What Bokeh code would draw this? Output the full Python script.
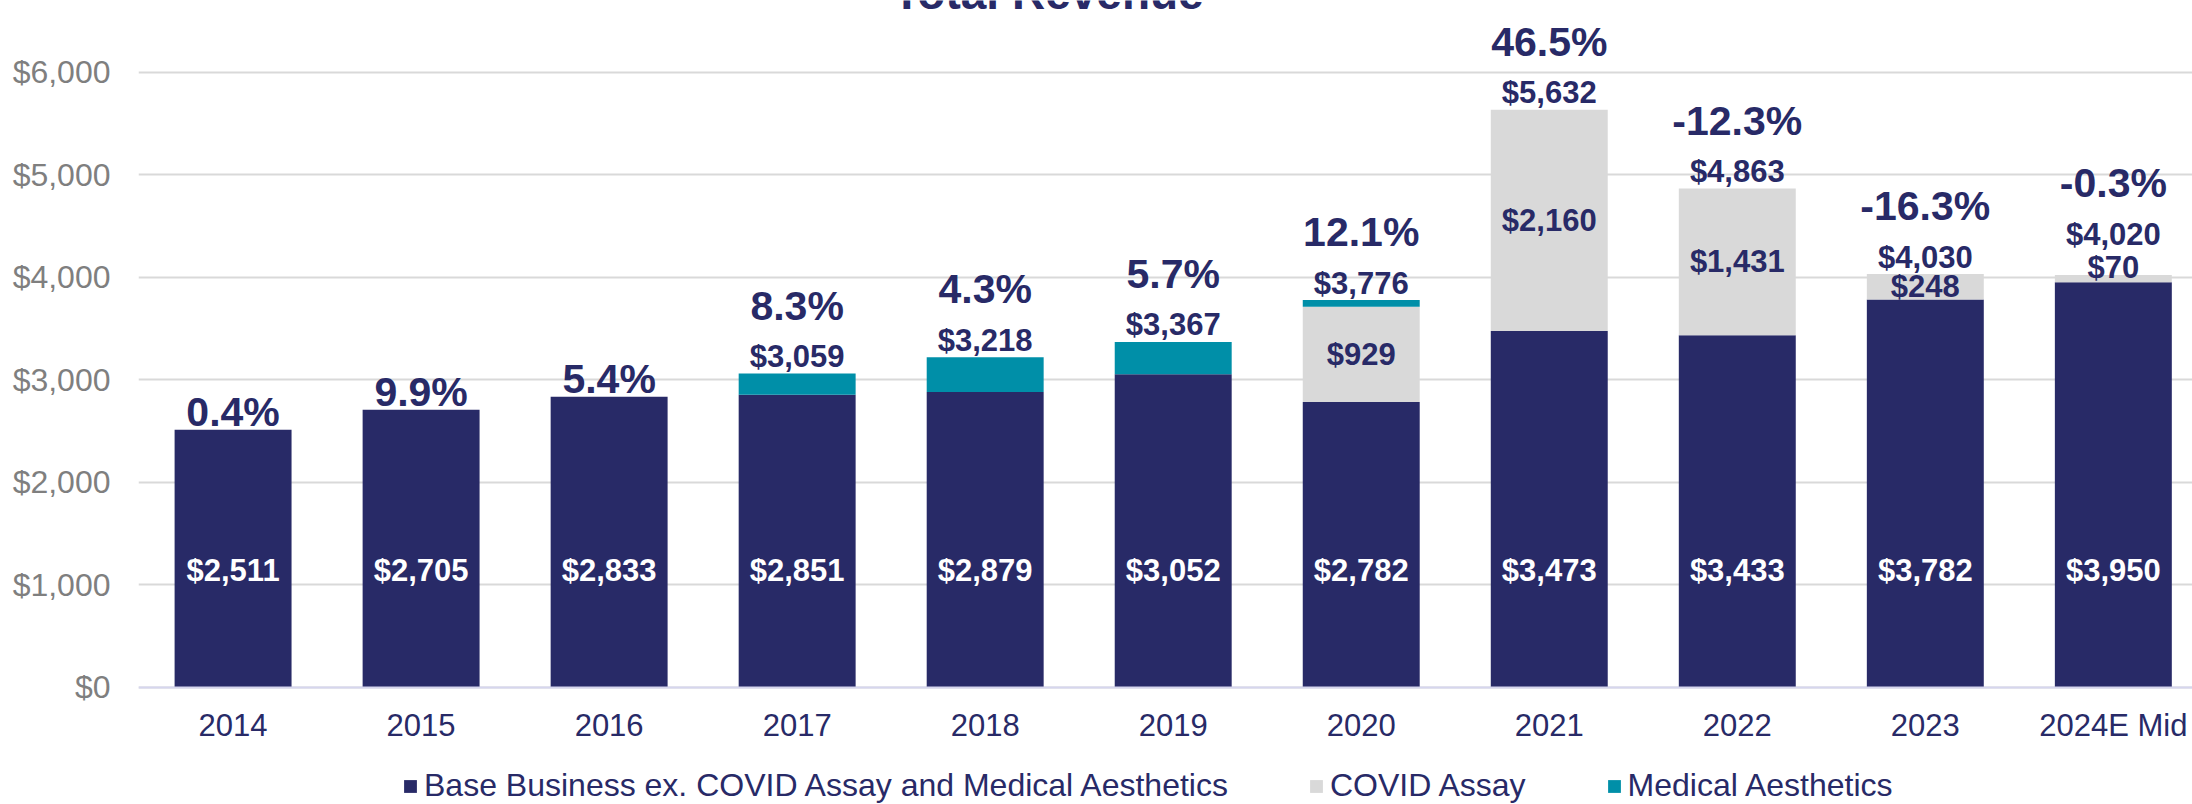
from bokeh.plotting import figure
from bokeh.models import (ColumnDataSource, FixedTicker, NumeralTickFormatter, Legend,
                          LegendItem, Label, Range1d)
from bokeh.embed import file_html
from bokeh.resources import INLINE
from bokeh.core.properties import value

# ---------------- data ----------------
years = ["2014", "2015", "2016", "2017", "2018", "2019", "2020", "2021", "2022", "2023", "2024E Mid"]
base_business = [2511, 2705, 2833, 2851, 2879, 3052, 2782, 3473, 3433, 3782, 3950]
covid_assay = [0, 0, 0, 0, 0, 0, 929, 2160, 1431, 248, 70]
medical_aesthetics = [0, 0, 0, 208, 339, 315, 65, 0, 0, 0, 0]
total_revenue = [2511, 2705, 2833, 3059, 3218, 3367, 3776, 5632, 4863, 4030, 4020]
show_total = [False, False, False, True, True, True, True, True, True, True, True]
growth_labels = ["0.4%", "9.9%", "5.4%", "8.3%", "4.3%", "5.7%", "12.1%", "46.5%", "-12.3%", "-16.3%", "-0.3%"]
series_names = ["Base Business ex. COVID Assay and Medical Aesthetics", "COVID Assay", "Medical Aesthetics"]
y_ticks = [0, 1000, 2000, 3000, 4000, 5000, 6000]
TITLE = "Total Revenue"

# ---------------- style ----------------
NAVY = "#282a67"
GRAY = "#d9d9d9"
TEAL = "#008fa8"
TICK_GRAY = "#7f7f7f"
FONT = "Liberation Sans"

W, H = 2192, 804
BORDER_L = 138
PX_PER_UNIT = 0.10247
ZERO_PX = 686.5                      # distance of the $0 line from the top
Y_MAX = ZERO_PX / PX_PER_UNIT
Y_MIN = -(H - ZERO_PX) / PX_PER_UNIT
X_START, X_END = -0.503, 10.421
BAR_W = 0.622
BASE_LABEL_Y = 1137          # fixed height of the white labels inside the base bars
TITLE_X = 4.335
TITLE_BASELINE_PX = -8       # title sits mostly above the top edge (cut off, as in the source)

n = len(years)
xs = list(range(n))

src = ColumnDataSource(dict(x=xs, base=base_business, covid=covid_assay, med=medical_aesthetics))

p = figure(width=W, height=H, output_backend="svg", toolbar_location=None,
           x_range=Range1d(X_START, X_END), y_range=Range1d(Y_MIN, Y_MAX),
           min_border_left=BORDER_L, min_border_right=0, min_border_top=0,
           min_border_bottom=0)
p.outline_line_color = None
p.background_fill_color = "white"

rs = p.vbar_stack(["base", "covid", "med"], x="x", width=BAR_W, source=src,
                  color=[NAVY, GRAY, TEAL], line_color=None)

# ---------------- labels ----------------
base_txt = [f"${v:,}" for v in base_business]
p.text(x=xs, y=[BASE_LABEL_Y] * n, text=base_txt, text_color="white",
       text_font=value(FONT), text_font_style="bold", text_font_size="31px",
       text_align="center", text_baseline="middle")

cx, cy, ct, coff = [], [], [], []
small_covid = []
for i in range(n):
    small = covid_assay[i] > 0 and covid_assay[i] * PX_PER_UNIT < 20
    small_covid.append(small)
    if covid_assay[i] > 0:
        cx.append(i)
        cy.append(base_business[i] + covid_assay[i] / 2)
        ct.append(f"${covid_assay[i]:,}")
        coff.append(-11 if small else 0)
p.text(x=cx, y=cy, text=ct, y_offset=coff, text_color=NAVY,
       text_font=value(FONT), text_font_style="bold", text_font_size="31px",
       text_align="center", text_baseline="middle")

tx, ty, tt, toff = [], [], [], []
gy_off = []
for i in range(n):
    off = 17 + (24 if small_covid[i] else 0)
    if show_total[i]:
        tx.append(i)
        ty.append(total_revenue[i])
        tt.append(f"${total_revenue[i]:,}")
        toff.append(-off)
        gy_off.append(-(off + 51))
    else:
        gy_off.append(-18)
p.text(x=tx, y=ty, text=tt, y_offset=toff, text_color=NAVY,
       text_font=value(FONT), text_font_style="bold", text_font_size="31px",
       text_align="center", text_baseline="alphabetic")
p.text(x=xs, y=total_revenue, text=growth_labels, y_offset=gy_off, text_color=NAVY,
       text_font=value(FONT), text_font_style="bold", text_font_size="41px",
       text_align="center", text_baseline="alphabetic")

# title (cut off at the top edge, as in the source)
p.add_layout(Label(x=TITLE_X, y=Y_MAX - TITLE_BASELINE_PX / PX_PER_UNIT, text=TITLE,
                   text_color=NAVY, text_font=FONT, text_font_style="bold",
                   text_font_size="46px", text_align="center", text_baseline="alphabetic"))

# ---------------- axes ----------------
p.xgrid.grid_line_color = None
p.ygrid.grid_line_color = GRAY
p.ygrid.grid_line_width = 2
p.ygrid.ticker = FixedTicker(ticks=y_ticks)

p.yaxis.ticker = FixedTicker(ticks=y_ticks)
p.yaxis.formatter = NumeralTickFormatter(format="$0,0")
p.yaxis.axis_line_color = None
p.yaxis.major_tick_line_color = None
p.yaxis.minor_tick_line_color = None
p.yaxis.major_tick_out = 0
p.yaxis.major_label_standoff = 28
p.yaxis.major_label_text_font = FONT
p.yaxis.major_label_text_font_size = "32px"
p.yaxis.major_label_text_color = TICK_GRAY

p.xaxis.fixed_location = 0
p.xaxis.ticker = FixedTicker(ticks=xs)
p.xaxis.major_label_overrides = {i: years[i] for i in xs}
p.xaxis.axis_line_color = "#d6d6ee"
p.xaxis.axis_line_width = 2
p.xaxis.major_tick_line_color = None
p.xaxis.minor_tick_line_color = None
p.xaxis.major_tick_out = 0
p.xaxis.major_label_standoff = 21
p.xaxis.major_label_text_font = FONT
p.xaxis.major_label_text_font_size = "31px"
p.xaxis.major_label_text_color = NAVY

# ---------------- legend ----------------
legend = Legend(items=[LegendItem(label=series_names[k], renderers=[rs[k]]) for k in range(3)],
                orientation="horizontal", location=(264, 0),
                glyph_width=16, glyph_height=16, label_standoff=6, spacing=80,
                padding=0, margin=0, border_line_color=None, background_fill_alpha=0,
                label_text_font=FONT, label_text_font_size="32px", label_text_color=NAVY)
p.add_layout(legend, "center")

open("out.html", "w").write(file_html(p, INLINE))
